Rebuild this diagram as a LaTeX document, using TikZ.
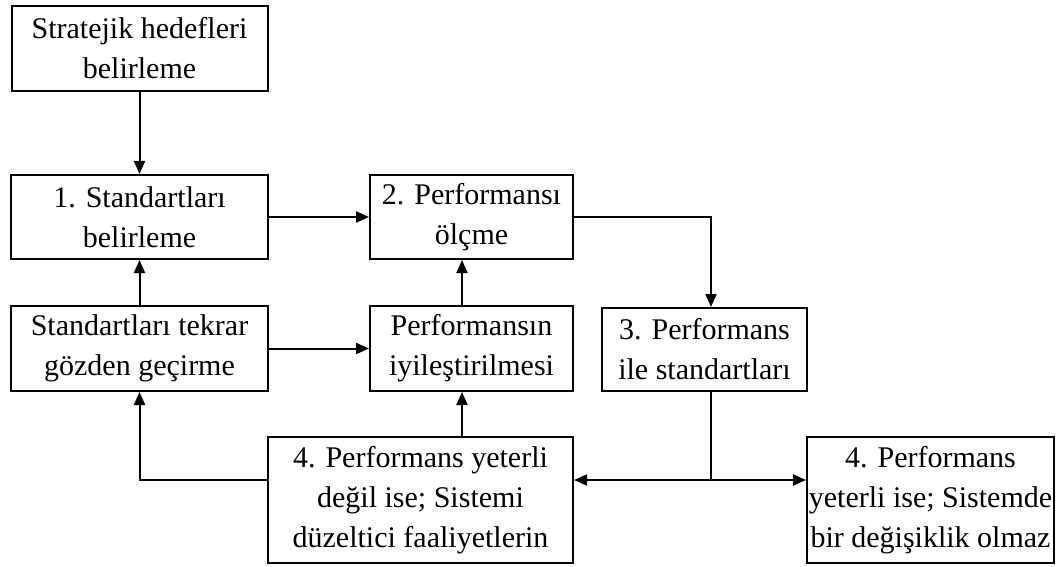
\documentclass[tikz,border=0pt]{standalone}
\usepackage{fontspec}
\setmainfont{Liberation Serif}
\usetikzlibrary{arrows.meta,calc}
\begin{document}
\begin{tikzpicture}[x=1pt,y=-1pt,
  box/.style={draw,line width=2pt,rectangle,inner sep=0pt,align=center,
    font=\fontsize{30}{40}\selectfont},
  arr/.style={line width=2pt,-{Triangle[length=13pt,width=11pt]}},
  ln/.style={line width=2pt}]
\useasboundingbox[fill=white] (0,0) rectangle (1061,567);
\node[box,minimum width=256pt,minimum height=85pt] (A) at (139.5,48.5) {Stratejik hedefleri\\belirleme};
\node[box,minimum width=257pt,minimum height=84pt] (B) at (139.5,217) {1. Standartları\\belirleme};
\node[box,minimum width=203pt,minimum height=84pt] (C) at (471.5,217) {2. Performansı\\ölçme};
\node[box,minimum width=257pt,minimum height=85pt] (D) at (139.5,348.5) {Standartları tekrar\\gözden geçirme};
\node[box,minimum width=203pt,minimum height=85pt] (E) at (471.5,348.5) {Performansın\\iyileştirilmesi};
\node[box,minimum width=205pt,minimum height=83pt] (F) at (704.5,349.5) {3. Performans\\ile standartları};
\node[box,minimum width=305pt,minimum height=126pt] (G) at (420.5,500) {4. Performans yeterli\\değil ise; Sistemi\\düzeltici faaliyetlerin};
\node[box,minimum width=247pt,minimum height=126pt] (H) at (930.5,500) {4. Performans\\yeterli ise; Sistemde\\bir değişiklik olmaz};
\coordinate (J) at (711,480);
\coordinate (V) at (462,0);
\draw[arr] (A) -- (B);
\draw[arr] (B) -- (C);
\draw[arr] (D) -- (B);
\draw[arr] (D) -- (E);
\draw[arr] (E.north -| V) -- (C.south -| V);
\draw[arr] (G.north -| V) -- (E.south -| V);
\draw[arr] (C.east) -| (J |- F.north);
\draw[ln] (F.south -| J) -- (J);
\draw[arr] (J) -- (G.east |- J);
\draw[arr] (J) -- (H.west |- J);
\draw[arr] (G.west |- J) -| (D.south);
\end{tikzpicture}
\end{document}
